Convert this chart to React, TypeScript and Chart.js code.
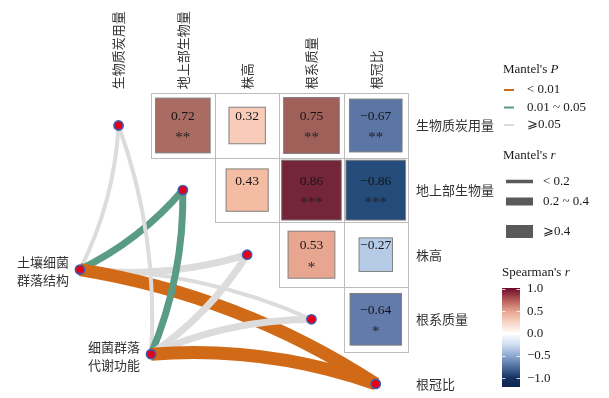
import React, { useEffect, useRef } from "react";
import { Chart, registerables } from "chart.js";
Chart.register(...registerables);

// ---- data ----
const variables = ["生物质炭用量", "地上部生物量", "株高", "根系质量", "根冠比"];
// Spearman's r (upper triangle, row by row, columns to the right of the diagonal)
const rBiochar = [0.72, 0.32, 0.75, -0.67];
const rShoot = [0.43, 0.86, -0.86];
const rHeight = [0.53, -0.27];
const rRoot = [-0.64];
const sigBiochar = ["**", "", "**", "**"];
const sigShoot = ["", "***", "***"];
const sigHeight = ["*", ""];
const sigRoot = ["*"];

// Mantel test: environment groups
const envNames = [["土壤细菌", "群落结构"], ["细菌群落", "代谢功能"]];
const envX = [-0.6, 0.505];
const envY = [2.23, 3.54];
const mantelRStructure = [0.15, 0.32, 0.3, 0.16, 0.52];
const mantelPStructure = [0.21, 0.03, 0.12, 0.25, 0.004];
const mantelRFunction = [0.12, 0.33, 0.26, 0.24, 0.57];
const mantelPFunction = [0.35, 0.02, 0.09, 0.16, 0.002];

const pLegend = ["< 0.01", "0.01 ~ 0.05", "⩾0.05"];
const rLegend = ["< 0.2", "0.2 ~ 0.4", "⩾0.4"];
const colorbarTicks = [1.0, 0.5, 0.0, -0.5, -1.0];

// ---- styles ----
const CELL_STOPS: [number, string][] = [
  [1, "#5E0626"], [0.86, "#74253A"], [0.74, "#A3655D"], [0.53, "#E8A690"],
  [0.43, "#F4BCA2"], [0.32, "#F8CCB8"], [0, "#FFFFFF"], [-0.27, "#B6CCE6"],
  [-0.65, "#6179A9"], [-0.86, "#244B79"], [-1, "#0B2855"],
];
const BAR_STOPS: [number, string][] = [
  [1.05, "#650024"], [0.75, "#B55C57"], [0.5, "#E6A590"], [0.25, "#F8D5C6"],
  [0, "#FFFFFF"], [-0.25, "#CEDDEE"], [-0.5, "#8CA7CD"], [-0.75, "#4C6C9F"],
  [-1.0, "#142F5F"], [-1.25, "#0A224F"],
];
const P_COLORS = ["#D06A17", "#5A9B83", "#DCDCDC"];
const R_WIDTHS = [4, 7, 13];
const SERIF = '"Liberation Serif", "DejaVu Serif", serif';
const CJK = '"Noto Sans CJK SC", sans-serif';

function hexToRgb(h: string) {
  const v = parseInt(h.slice(1), 16);
  return [(v >> 16) & 255, (v >> 8) & 255, v & 255];
}
function colorFrom(stops: [number, string][], r: number) {
  const s = [...stops].sort((a, b) => b[0] - a[0]);
  if (r >= s[0][0]) return s[0][1];
  for (let i = 0; i < s.length - 1; i++) {
    const [v0, c0] = s[i];
    const [v1, c1] = s[i + 1];
    if (r <= v0 && r >= v1) {
      const t = (v0 - r) / (v0 - v1);
      const a = hexToRgb(c0), b = hexToRgb(c1);
      const m = a.map((q, k) => Math.round(q + (b[k] - q) * t));
      return `rgb(${m[0]},${m[1]},${m[2]})`;
    }
  }
  return s[s.length - 1][1];
}
const pIndex = (p: number) => (p < 0.01 ? 0 : p < 0.05 ? 1 : 2);
const rIndex = (r: number) => (r < 0.2 ? 0 : r < 0.4 ? 1 : 2);
const fmt = (v: number) => (v < 0 ? "−" + Math.abs(v).toFixed(2) : v.toFixed(2));

const UX = 64.3, UY = 64.6, X0 = 118.55, Y0 = 125.5, W = 609, H = 398;

export default function App() {
  const ref = useRef<HTMLCanvasElement>(null);
  useEffect(() => {
    const canvas = ref.current!;
    const rRows = [rBiochar, rShoot, rHeight, rRoot];
    const sigRows = [sigBiochar, sigShoot, sigHeight, sigRoot];
    const envR = [mantelRStructure, mantelRFunction];
    const envP = [mantelPStructure, mantelPFunction];
    const n = variables.length;

    const plugin = {
      id: "mantelCorr",
      beforeDraw(chart: any) {
        const c = chart.ctx;
        c.save();
        c.fillStyle = "#fff";
        c.fillRect(0, 0, chart.width, chart.height);
        c.restore();
      },
      beforeDatasetsDraw(chart: any) {
        const { ctx, scales } = chart;
        const xs = scales.x, ys = scales.y;
        const px = (v: number) => xs.getPixelForValue(v);
        const py = (v: number) => ys.getPixelForValue(v);
        const ux = px(1) - px(0);
        const uy = py(1) - py(0);
        ctx.save();
        // grid cells
        ctx.strokeStyle = "#BDBDBD";
        ctx.lineWidth = 1;
        rRows.forEach((row, i) => {
          row.forEach((_, k) => {
            const j = i + 1 + k;
            const l = Math.round(px(j - 0.5)) + 0.5, t = Math.round(py(i - 0.5)) + 0.5;
            const r = Math.round(px(j + 0.5)) + 0.5, b = Math.round(py(i + 0.5)) + 0.5;
            ctx.strokeRect(l, t, r - l, b - t);
          });
        });
        // squares + text
        rRows.forEach((row, i) => {
          row.forEach((r, k) => {
            const j = i + 1 + k;
            const cx = px(j), cy = py(i);
            const sw = Math.sqrt(Math.abs(r)) * ux, sh = Math.sqrt(Math.abs(r)) * uy;
            ctx.fillStyle = colorFrom(CELL_STOPS, r);
            ctx.fillRect(cx - sw / 2, cy - sh / 2, sw, sh);
            ctx.strokeStyle = "#808080";
            ctx.lineWidth = 1;
            ctx.strokeRect(cx - sw / 2, cy - sh / 2, sw, sh);
            ctx.fillStyle = "#151515";
            ctx.textAlign = "center";
            ctx.textBaseline = "middle";
            ctx.font = `13.5px ${SERIF}`;
            ctx.fillText(fmt(r), cx, cy - 9);
            const s = sigRows[i][k];
            if (s) {
              ctx.font = `15px ${SERIF}`;
              ctx.fillStyle = "#222";
              ctx.fillText(s, cx, cy + 13);
            }
          });
        });
        // Mantel curves
        envR.forEach((rs, e) => {
          const sx = px(envX[e]), sy = py(envY[e]);
          rs.forEach((r, i) => {
            const tx = px(i), ty = py(i);
            const dx = tx - sx, dy = ty - sy;
            const L = Math.hypot(dx, dy);
            const sign = i < n / 2 ? 1 : -1;
            const nx = (sign * -dy) / L, ny = (sign * dx) / L;
            const h = 0.105 * L;
            const cxp = (sx + tx) / 2 + nx * h, cyp = (sy + ty) / 2 + ny * h;
            ctx.beginPath();
            ctx.moveTo(sx, sy);
            ctx.quadraticCurveTo(cxp, cyp, tx, ty);
            ctx.strokeStyle = P_COLORS[pIndex(envP[e][i])];
            ctx.lineWidth = R_WIDTHS[rIndex(r)];
            ctx.lineCap = "butt";
            ctx.stroke();
          });
        });
        ctx.restore();
      },
      afterDraw(chart: any) {
        const { ctx, scales } = chart;
        const xs = scales.x, ys = scales.y;
        const px = (v: number) => xs.getPixelForValue(v);
        const py = (v: number) => ys.getPixelForValue(v);
        ctx.save();
        // variable labels
        ctx.fillStyle = "#333";
        ctx.font = `13px ${CJK}`;
        variables.forEach((v, i) => {
          ctx.save();
          ctx.translate(px(i), py(-0.5) - 4);
          ctx.rotate(-Math.PI / 2);
          ctx.textAlign = "left";
          ctx.textBaseline = "middle";
          ctx.fillText(v, 0, 0);
          ctx.restore();
          ctx.textAlign = "left";
          ctx.textBaseline = "middle";
          ctx.fillText(v, px(n - 0.5) + 8, py(i));
        });
        // env labels
        envNames.forEach((lines, e) => {
          const x = px(envX[e]) - 11, y = py(envY[e]);
          ctx.textAlign = "right";
          ctx.textBaseline = "middle";
          ctx.fillText(lines[0], x, y - 7);
          ctx.fillText(lines[1], x, y + 10.5);
        });

        // legends
        const titled = (a: string, b: string, x: number, y: number) => {
          ctx.textAlign = "left";
          ctx.textBaseline = "middle";
          ctx.font = `13px ${SERIF}`;
          ctx.fillStyle = "#1A1A1A";
          ctx.fillText(a, x, y);
          const w = ctx.measureText(a).width;
          ctx.font = `italic 13px ${SERIF}`;
          ctx.fillText(b, x + w, y);
          ctx.font = `13px ${SERIF}`;
        };
        titled("Mantel's ", "P", 503, 70);
        const pY = [90, 107.5, 125];
        pLegend.forEach((t, k) => {
          ctx.strokeStyle = P_COLORS[k];
          ctx.lineWidth = 2;
          ctx.beginPath();
          ctx.moveTo(504, pY[k]);
          ctx.lineTo(514, pY[k]);
          ctx.stroke();
          ctx.fillStyle = "#1A1A1A";
          ctx.fillText(t, 527, pY[k]);
        });
        titled("Mantel's ", "r", 503, 156);
        const rY = [181.5, 201.5, 231.5];
        rLegend.forEach((t, k) => {
          ctx.fillStyle = "#5A5A5A";
          const hgt = [3.5, 8, 13][k];
          ctx.fillRect(506, rY[k] - hgt / 2, 27, hgt);
          ctx.fillStyle = "#1A1A1A";
          ctx.fillText(t, 543, rY[k]);
        });
        titled("Spearman's ", "r", 502, 273);
        // colorbar
        const top = 288, bot = 387, cbX = 502, cbW = 18;
        const yOf = (v: number) => 333.6 - v * 44.6;
        const vOf = (yy: number) => (333.6 - yy) / 44.6;
        for (let yy = top; yy < bot; yy++) {
          ctx.fillStyle = colorFrom(BAR_STOPS, vOf(yy + 0.5));
          ctx.fillRect(cbX, yy, cbW, 1);
        }
        ctx.strokeStyle = "rgba(255,255,255,0.8)";
        ctx.lineWidth = 1;
        colorbarTicks.forEach((v) => {
          const yy = Math.round(yOf(v)) + 0.5;
          ctx.beginPath();
          ctx.moveTo(cbX, yy); ctx.lineTo(cbX + 3.5, yy);
          ctx.moveTo(cbX + cbW - 3.5, yy); ctx.lineTo(cbX + cbW, yy);
          ctx.stroke();
          ctx.fillStyle = "#1A1A1A";
          ctx.textAlign = "left";
          ctx.fillText(v < 0 ? "−" + Math.abs(v).toFixed(1) : v.toFixed(1), 527, yOf(v));
        });
        ctx.restore();
      },
    };

    const nodeStyle = {
      pointRadius: 4.6,
      pointBackgroundColor: "#E3001B",
      pointBorderColor: "#3B5DAE",
      pointBorderWidth: 1.6,
      showLine: false,
    };
    const chart = new Chart(canvas, {
      type: "scatter",
      data: {
        datasets: [
          { label: "variables", data: variables.map((_, i) => ({ x: i, y: i })), ...nodeStyle },
          { label: "env", data: envX.map((x, i) => ({ x, y: envY[i] })), ...nodeStyle },
        ],
      },
      options: {
        animation: false,
        responsive: false,
        layout: { padding: 0, autoPadding: false },
        plugins: { legend: { display: false }, tooltip: { enabled: false } },
        scales: {
          x: { type: "linear", display: false, min: -X0 / UX, max: (W - X0) / UX },
          y: { type: "linear", display: false, reverse: true, min: -Y0 / UY, max: (H - Y0) / UY },
        },
      },
      plugins: [plugin],
    } as any);
    return () => chart.destroy();
  }, []);
  return (
    <div style={{ position: "fixed", left: 0, top: 0, width: W, height: H, background: "#fff" }}>
      <canvas ref={ref} width={W} height={H} />
    </div>
  );
}
